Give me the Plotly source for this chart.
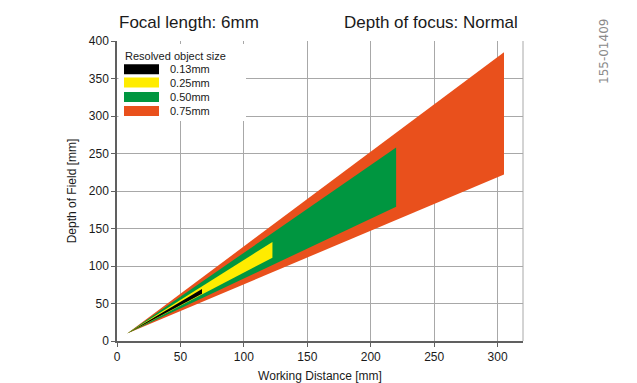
import plotly.graph_objects as go

# ---- data ----
sizes = ["0.13mm", "0.25mm", "0.50mm", "0.75mm"]
colors = ["#000000", "#ffec00", "#009640", "#e9501c"]

# polygon outlines: working distance [mm] and depth of field [mm]
wd_013 = [8, 67, 67]
dof_013 = [10, 69.5, 63]
wd_025 = [8, 122.5, 122.5]
dof_025 = [10, 132, 111]
wd_050 = [8, 220, 220]
dof_050 = [10, 258, 179]
wd_075 = [8, 305, 305]
dof_075 = [10, 385, 222]

x_ticks = [0, 50, 100, 150, 200, 250, 300]
y_ticks = [0, 50, 100, 150, 200, 250, 300, 350, 400]

polys = [(wd_013, dof_013), (wd_025, dof_025), (wd_050, dof_050), (wd_075, dof_075)]

fig = go.Figure()
# draw largest first so smaller sizes sit on top
for i in reversed(range(len(sizes))):
    xs, ys = polys[i]
    fig.add_trace(go.Scatter(
        x=xs, y=ys, fill="toself", fillcolor=colors[i], mode="lines",
        line=dict(width=0, color=colors[i]), name=sizes[i],
        showlegend=False, hoverinfo="skip"))

FONT = "Liberation Sans, Arial, sans-serif"
W, H = 637, 383          # reference window size
OFF = 8                  # page body margin of the browser
L, R, T, B = 117, 114, 41, 42   # plot area in reference pixel coords
pw, ph = W - L - R, H - T - B

def px(xp):
    return (xp - L) / pw

def py(yp):
    return (H - B - yp) / ph

shapes = []
annotations = []

# legend box
shapes.append(dict(type="rect", xref="paper", yref="paper",
                   x0=px(118.5), x1=px(246), y0=py(121), y1=py(44),
                   fillcolor="white", line=dict(width=0), layer="above"))
annotations.append(dict(xref="paper", yref="paper", x=px(122.5), y=py(55.5),
                        text="Resolved object size", showarrow=False,
                        xanchor="left", yanchor="middle",
                        font=dict(family=FONT, size=11, color="#1a1a1a")))
row_y = [69.3, 82.5, 97, 111]
for i, s in enumerate(sizes):
    shapes.append(dict(type="rect", xref="paper", yref="paper",
                       x0=px(124), x1=px(159), y0=py(row_y[i] + 5), y1=py(row_y[i] - 5),
                       fillcolor=colors[i], line=dict(width=0), layer="above"))
    annotations.append(dict(xref="paper", yref="paper", x=px(167.5), y=py(row_y[i]),
                            text=s, showarrow=False, xanchor="left", yanchor="middle",
                            font=dict(family=FONT, size=11, color="#1a1a1a")))

# right border line of plot area
shapes.append(dict(type="line", xref="paper", yref="paper", x0=1, x1=1, y0=0, y1=1,
                   line=dict(color="#a8a8a8", width=1), layer="below"))

# titles
annotations.append(dict(xref="paper", yref="paper", x=px(116.5), y=py(22),
                        text="Focal length: 6mm", showarrow=False,
                        xanchor="left", yanchor="middle",
                        font=dict(family=FONT, size=17, color="#1a1a1a")))
annotations.append(dict(xref="paper", yref="paper", x=px(520), y=py(22),
                        text="Depth of focus: Normal", showarrow=False,
                        xanchor="right", yanchor="middle",
                        font=dict(family=FONT, size=17, color="#1a1a1a")))
annotations.append(dict(xref="paper", yref="paper", x=px(604), y=py(52),
                        text="155-01409", showarrow=False, textangle=-90,
                        xanchor="center", yanchor="middle",
                        font=dict(family="DejaVu Sans, sans-serif", size=12, color="#8a8a8a")))

axis_common = dict(
    showgrid=True, gridcolor="#a8a8a8", gridwidth=1,
    showline=True, linecolor="#606060", linewidth=1.5,
    ticks="outside", ticklen=4, tickcolor="#606060", tickwidth=1,
    tickfont=dict(family=FONT, size=12, color="#1a1a1a"),
    zeroline=False, fixedrange=True, automargin=False,
)

fig.update_layout(
    width=W - OFF, height=H - OFF,
    margin=dict(l=L - OFF, r=R, t=T - OFF, b=B, pad=0, autoexpand=False),
    paper_bgcolor="white", plot_bgcolor="white",
    showlegend=False,
    xaxis=dict(range=[0, 320], tickvals=x_ticks,
               title=dict(text="Working Distance [mm]", standoff=8,
                          font=dict(family=FONT, size=12, color="#1a1a1a")),
               **axis_common),
    yaxis=dict(range=[0, 400], tickvals=y_ticks,
               title=dict(text="Depth of Field [mm]", standoff=10,
                          font=dict(family=FONT, size=12, color="#1a1a1a")),
               **axis_common),
    shapes=shapes,
    annotations=annotations,
)

fig.write_html("out.html")
